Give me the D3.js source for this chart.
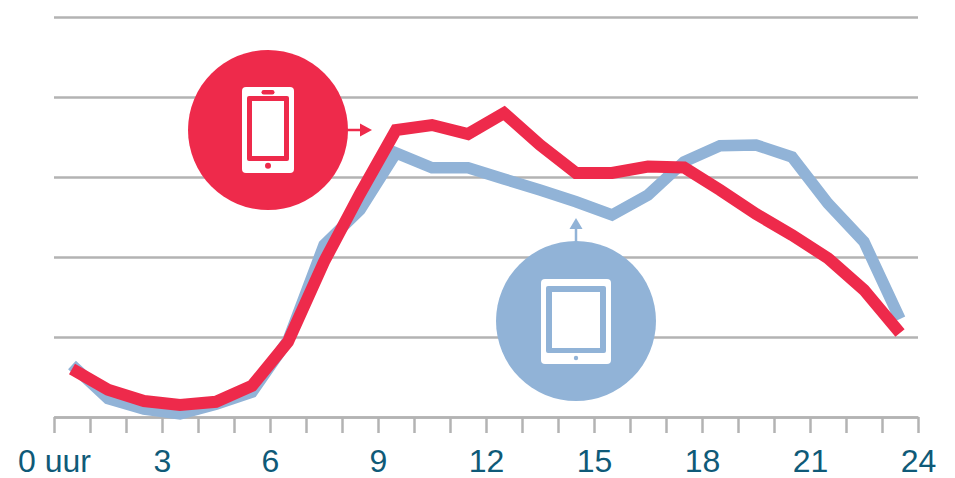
<!DOCTYPE html>
<html>
<head>
<meta charset="utf-8">
<script src="https://d3js.org/d3.v7.min.js"></script>
<style>
	html, body { margin: 0; padding: 0; background: #fff; }
	svg { display: block; }
	text { font-family: "Liberation Sans", Arial, sans-serif; }
</style>
</head>
<body>
<svg></svg>
<script>
const hours = [0.5, 1.5, 2.5, 3.5, 4.5, 5.5, 6.5, 7.5, 8.5, 9.5, 10.5, 11.5, 12.5, 13.5, 14.5, 15.5, 16.5, 17.5, 18.5, 19.5, 20.5, 21.5, 22.5, 23.5];
const smartphone = [12, 6.8, 4, 3, 3.8, 7.8, 18.8, 38.8, 55.8, 71.75, 73, 70.75, 76, 68, 61, 61, 62.6, 62.4, 56.75, 50.75, 45.5, 39.7, 31.75, 21];
const tablet = [13, 4.6, 2, 0.8, 3.2, 6.2, 19.2, 43, 51.8, 66, 62.3, 62.3, 59.5, 56.75, 53.8, 50.5, 55.5, 63.8, 67.8, 68, 65, 53.4, 43.8, 24.5];
const yTicks = [0, 20, 40, 60, 80, 100];
const xLabels = { 0: '0 uur', 3: '3', 6: '6', 9: '9', 12: '12', 15: '15', 18: '18', 21: '21', 24: '24' };

const svg = d3.select('svg')
	.attr('width', 955)
	.attr('height', 478);

const margin = { top: 17, right: 37, bottom: 61, left: 54 },
	innerWidth = 955 - margin.left - margin.right,
	innerHeight = 478 - margin.top - margin.bottom;

const red = '#ee2a4b',
	blue = '#91b3d7',
	grey = '#b3b3b3',
	textColor = '#0f5a78';

const xScale = d3.scaleLinear().domain([0, 24]).range([0, innerWidth]);
const yScale = d3.scaleLinear().domain([0, 100]).range([innerHeight, 0]);

const g = svg.append('g')
	.attr('transform', `translate(${margin.left}, ${margin.top})`);

// gridlines
const yAxisG = g.append('g').call(d3.axisLeft(yScale)
	.tickValues(yTicks)
	.tickSize(-innerWidth)
	.tickFormat(''));
yAxisG.select('.domain').remove();
yAxisG.selectAll('line').attr('stroke', grey).attr('stroke-width', 2.5);

// hour axis
const xAxisG = g.append('g')
	.attr('transform', `translate(0, ${innerHeight})`)
	.call(d3.axisBottom(xScale)
		.tickValues(d3.range(0, 25))
		.tickSize(16)
		.tickSizeOuter(0)
		.tickPadding(16)
		.tickFormat(d => xLabels[d] || ''));
xAxisG.select('.domain').attr('stroke', grey).attr('stroke-width', 2.5);
xAxisG.selectAll('line').attr('stroke', grey).attr('stroke-width', 2.5);
xAxisG.selectAll('text')
	.attr('fill', textColor)
	.style('font-size', '32px');

const lineGenerator = d3.line()
	.x((d, i) => xScale(hours[i]))
	.y(d => yScale(d));

[[tablet, blue, 11.5], [smartphone, red, 12]].forEach(([values, color, width]) => {
	g.append('path')
		.attr('fill', 'none')
		.attr('stroke', color)
		.attr('stroke-width', width)
		.attr('stroke-linejoin', 'miter')
		.attr('d', lineGenerator(values));
});

// phone badge
const phone = svg.append('g').attr('transform', 'translate(268, 130)');
phone.append('path').attr('d', 'M79,0H94').attr('stroke', red).attr('stroke-width', 2.5);
phone.append('path').attr('d', 'M92,-6.5L104,0L92,6.5Z').attr('fill', red);
phone.append('circle').attr('r', 80).attr('fill', red);
phone.append('rect').attr('x', -26).attr('y', -43).attr('width', 52).attr('height', 86).attr('rx', 4).attr('fill', '#fff');
phone.append('rect').attr('x', -21).attr('y', -34).attr('width', 42).attr('height', 65).attr('rx', 2).attr('fill', red);
phone.append('rect').attr('x', -16).attr('y', -29).attr('width', 32).attr('height', 55).attr('fill', '#fff');
phone.append('rect').attr('x', -6.5).attr('y', -40).attr('width', 13).attr('height', 4.5).attr('rx', 2.2).attr('fill', red);
phone.append('circle').attr('cy', 35.7).attr('r', 3).attr('fill', red);

// tablet badge
const pad = svg.append('g').attr('transform', 'translate(576, 321)');
pad.append('path').attr('d', 'M0,-79V-92').attr('stroke', blue).attr('stroke-width', 2.5);
pad.append('path').attr('d', 'M-6.5,-92L0,-103L6.5,-92Z').attr('fill', blue);
pad.append('circle').attr('r', 80).attr('fill', blue);
pad.append('rect').attr('x', -35).attr('y', -42).attr('width', 70).attr('height', 85).attr('rx', 4).attr('fill', '#fff');
pad.append('rect').attr('x', -30).attr('y', -35).attr('width', 60).attr('height', 67).attr('rx', 2).attr('fill', blue);
pad.append('rect').attr('x', -24).attr('y', -29).attr('width', 48).attr('height', 56).attr('fill', '#fff');
pad.append('circle').attr('cy', 37).attr('r', 2.2).attr('fill', blue);
</script>
</body>
</html>
